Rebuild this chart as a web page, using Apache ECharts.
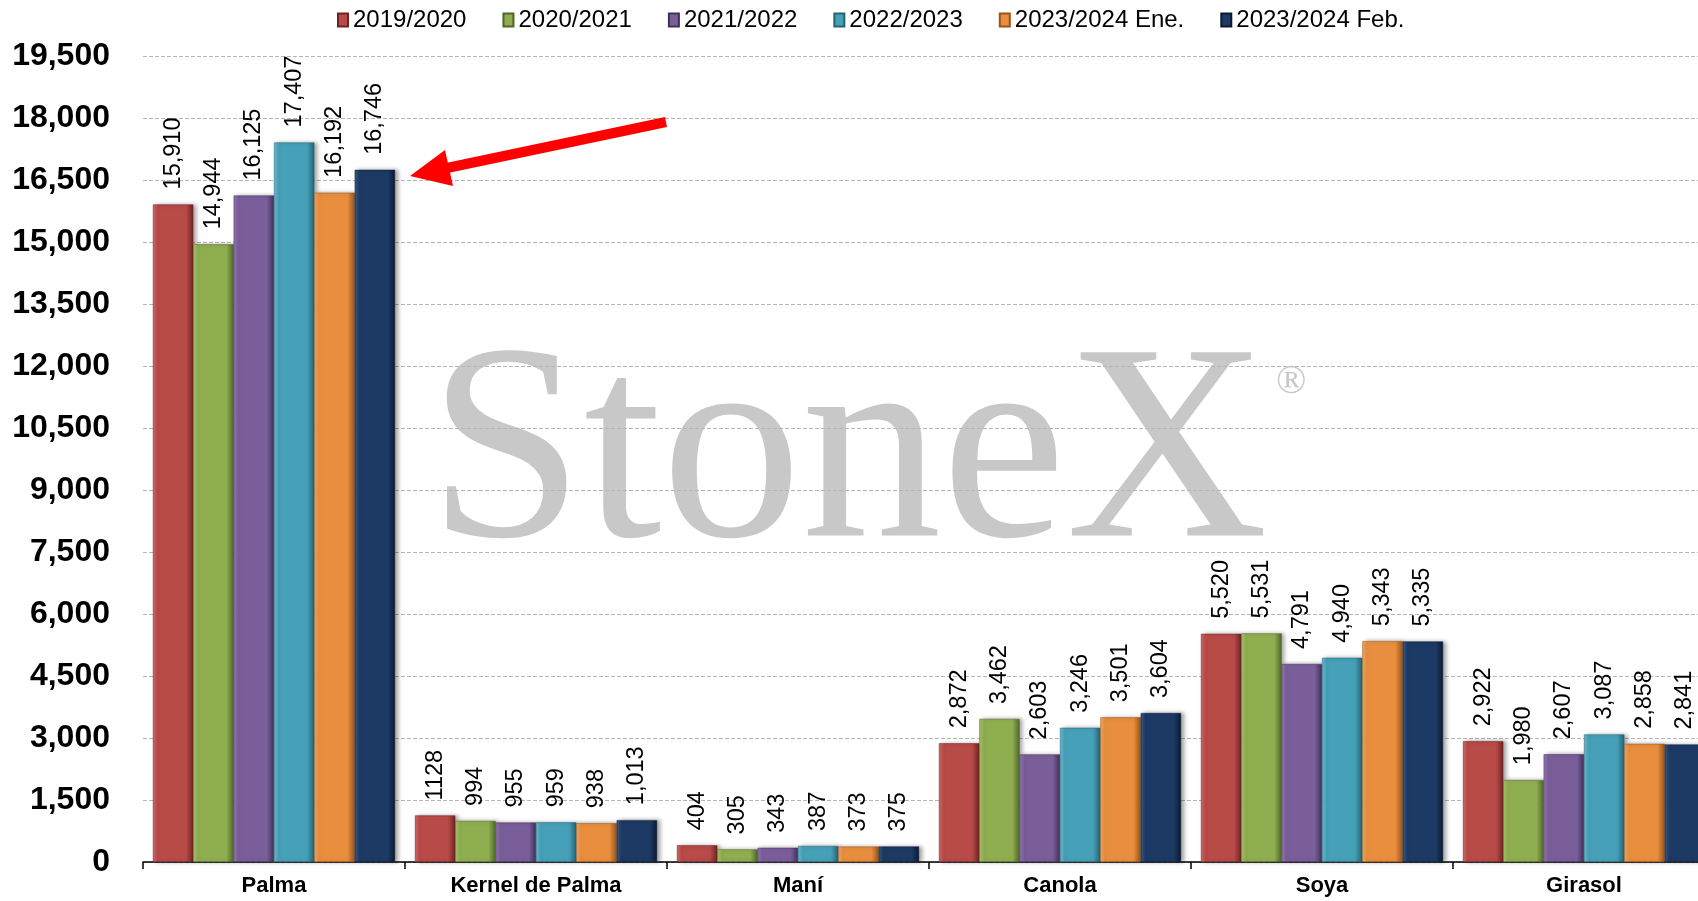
<!DOCTYPE html>
<html>
<head>
<meta charset="utf-8">
<style>html,body{margin:0;padding:0;width:1698px;height:901px;background:#fff;overflow:hidden;}#chart{width:1715px;height:901px;}</style>
<script src="https://cdn.jsdelivr.net/npm/echarts@6/dist/echarts.min.js"></script>
</head>
<body>
<div id="chart"></div>
<script>
// oilseed-oil production by crop, thousand t
var categories = ["Palma", "Kernel de Palma", "Maní", "Canola", "Soya", "Girasol"];
var seasons = ["2019/2020", "2020/2021", "2021/2022", "2022/2023", "2023/2024 Ene.", "2023/2024 Feb."];

var s2019 = [15910, 1128, 404, 2872, 5520, 2922];
var s2020 = [14944, 994, 305, 3462, 5531, 1980];
var s2021 = [16125, 955, 343, 2603, 4791, 2607];
var s2022 = [17407, 959, 387, 3246, 4940, 3087];
var s2023Ene = [16192, 938, 373, 3501, 5343, 2858];
var s2023Feb = [16746, 1013, 375, 3604, 5335, 2841];

// the source prints this one label without a thousands separator
var plainLabels = [1128];

var seriesValues = [s2019, s2020, s2021, s2022, s2023Ene, s2023Feb];
var baseColors = ["#b84a48", "#8fae4f", "#7a5e9a", "#46a0b8", "#e88e3e", "#1d3a64"];
var darkColors = ["#6e2423", "#4f6628", "#42305a", "#216475", "#9a5418", "#0b1a33"];
var lightColors = ["#d06a68", "#a8c56c", "#9479b2", "#6cbcd2", "#f4a863", "#3a5a88"];

function fmt(v) {
  if (plainLabels.indexOf(v) >= 0) return String(v);
  return v.toLocaleString("en-US");
}

function barColor(i) {
  return {
    type: "linear", x: 0, y: 0, x2: 1, y2: 0,
    colorStops: [
      { offset: 0, color: lightColors[i] },
      { offset: 0.12, color: baseColors[i] },
      { offset: 0.82, color: baseColors[i] },
      { offset: 1, color: darkColors[i] }
    ]
  };
}

// the plot runs past the right edge of the window, so the canvas is a bit wider
var chart = echarts.init(document.getElementById("chart"), null, { renderer: "canvas" });

var series = seasons.map(function (name, i) {
  return {
    name: name,
    type: "bar",
    data: seriesValues[i],
    barGap: "0%",
    barCategoryGap: "7.6%",
    itemStyle: {
      color: barColor(i),
      borderColor: darkColors[i],
      borderWidth: 0.5,
      shadowColor: "rgba(0,0,0,0.35)",
      shadowBlur: 4,
      shadowOffsetX: 3,
      shadowOffsetY: 0
    },
    label: {
      show: true,
      position: "top",
      rotate: 90,
      align: "left",
      verticalAlign: "middle",
      distance: 15,
      color: "#000",
      fontFamily: "Liberation Sans",
      fontSize: 23.5,
      formatter: function (p) { return fmt(p.value); }
    }
  };
});

chart.setOption({
  backgroundColor: "#fff",
  animation: false,
  legend: {
    left: 332,
    top: 3,
    itemWidth: 10,
    itemHeight: 13,
    itemGap: 36,
    icon: "rect",
    textStyle: { fontFamily: "Liberation Sans", fontSize: 24, color: "#000" },
    data: seasons
  },
  grid: { left: 143, top: 56, bottom: 39, right: 0 },
  xAxis: {
    type: "category",
    data: categories,
    axisLine: { lineStyle: { color: "#000", width: 1.5 } },
    axisTick: { show: true, length: 7, lineStyle: { color: "#000", width: 1.5 } },
    axisLabel: {
      margin: 13,
      color: "#000",
      fontFamily: "Liberation Sans",
      fontWeight: "bold",
      fontSize: 22
    }
  },
  yAxis: {
    type: "value",
    min: 0,
    max: 19500,
    interval: 1500,
    axisLine: { show: false },
    axisTick: { show: false },
    splitLine: { lineStyle: { color: "#b5b5b5", type: "dashed", width: 1 } },
    axisLabel: {
      margin: 33,
      color: "#000",
      fontFamily: "Liberation Sans",
      fontWeight: "bold",
      fontSize: 32,
      formatter: function (v) { return v.toLocaleString("en-US"); }
    }
  },
  graphic: [
    {
      type: "text",
      z: -1,
      x: 428,
      y: 462,
      style: {
        text: "StoneX",
        font: "280px 'Liberation Serif'",
        fill: "#c8c8c8",
        textVerticalAlign: "middle"
      }
    },
    {
      type: "text",
      z: -1,
      x: 1276,
      y: 382,
      style: {
        text: "®",
        font: "40px 'Liberation Serif'",
        fill: "#c8c8c8",
        textVerticalAlign: "middle"
      }
    },
    {
      type: "line",
      z: 10,
      shape: { x1: 666, y1: 122, x2: 447, y2: 168 },
      style: { stroke: "#ff0000", lineWidth: 10 }
    },
    {
      type: "polygon",
      z: 10,
      shape: { points: [[410, 176], [445, 150], [453, 186]] },
      style: { fill: "#ff0000" }
    }
  ],
  series: series
});
</script>
</body>
</html>
